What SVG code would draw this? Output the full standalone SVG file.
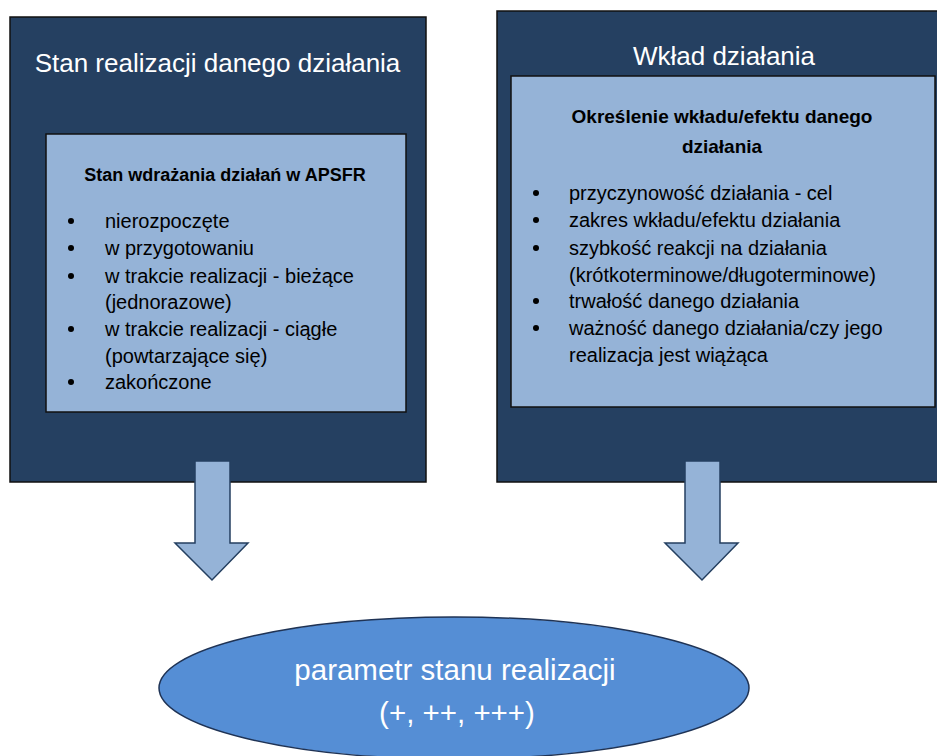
<svg xmlns="http://www.w3.org/2000/svg" width="937" height="756" viewBox="0 0 937 756">
<style>
.outer{fill:#254061;stroke:#111;stroke-width:1.5}
.inner{fill:#95B3D7;stroke:#111;stroke-width:1.5}
.arrow{fill:#95B3D7;stroke:#243F60;stroke-width:1.5;stroke-linejoin:miter}
.title{font-family:"Liberation Sans",Arial,sans-serif;font-size:26px;fill:#fff;text-anchor:middle}
.head{font-family:"Liberation Sans",Arial,sans-serif;font-weight:bold;fill:#000;text-anchor:middle}
.item{font-family:"Liberation Sans",Arial,sans-serif;font-size:20px;fill:#000}
.ell{fill:#558ED5;stroke:#1F3355;stroke-width:1.5}
.etext{font-family:"Liberation Sans",Arial,sans-serif;font-size:29.5px;fill:#fff;text-anchor:middle}
</style>
<rect width="937" height="756" fill="#fff"/>
<g id="node-stan">
<rect class="outer" x="10" y="17" width="416" height="465"/>
<text class="title" x="217.5" y="72">Stan realizacji danego działania</text>
<rect class="inner" x="46" y="134" width="360" height="278"/>
<text class="head" x="225" y="181" font-size="18">Stan wdrażania działań w APSFR</text>
<g fill="#000">
<circle cx="71" cy="221" r="3"/><circle cx="71" cy="248" r="3"/><circle cx="71" cy="276" r="3"/><circle cx="71" cy="329" r="3"/><circle cx="71" cy="382" r="3"/>
</g>
<text class="item" x="105" y="228">nierozpoczęte</text>
<text class="item" x="105" y="255">w przygotowaniu</text>
<text class="item" x="105" y="283">w trakcie realizacji - bieżące</text>
<text class="item" x="105" y="309">(jednorazowe)</text>
<text class="item" x="105" y="336">w trakcie realizacji - ciągłe</text>
<text class="item" x="105" y="363">(powtarzające się)</text>
<text class="item" x="105" y="389">zakończone</text>
</g>
<g id="node-wklad">
<rect class="outer" x="497" y="11" width="450" height="471"/>
<text class="title" x="724" y="65">Wkład działania</text>
<rect class="inner" x="511" y="76" width="424" height="331"/>
<text class="head" x="722" y="123" font-size="19">Określenie wkładu/efektu danego</text>
<text class="head" x="722" y="153" font-size="19">działania</text>
<g fill="#000">
<circle cx="536" cy="193" r="3"/><circle cx="536" cy="220" r="3"/><circle cx="536" cy="248" r="3"/><circle cx="536" cy="301" r="3"/><circle cx="536" cy="328" r="3"/>
</g>
<text class="item" x="569" y="200">przyczynowość działania - cel</text>
<text class="item" x="569" y="227">zakres wkładu/efektu działania</text>
<text class="item" x="569" y="255">szybkość reakcji na działania</text>
<text class="item" x="569" y="282">(krótkoterminowe/długoterminowe)</text>
<text class="item" x="569" y="308">trwałość danego działania</text>
<text class="item" x="569" y="335">ważność danego działania/czy jego</text>
<text class="item" x="569" y="362">realizacja jest wiążąca</text>
</g>
<g id="node-parametr">
<ellipse class="ell" cx="454" cy="688" rx="295" ry="71"/>
<text class="etext" x="455" y="680">parametr stanu realizacji</text>
<text class="etext" x="457" y="723">(+, ++, +++)</text>
</g>
<g id="connectors">
<path class="arrow" d="M195,461 H230 V543 H248 L212,580 L175,543 H195 Z"/>
<path class="arrow" d="M685,461 H720 V543 H738 L702,580 L665,543 H685 Z"/>
</g>
</svg>
